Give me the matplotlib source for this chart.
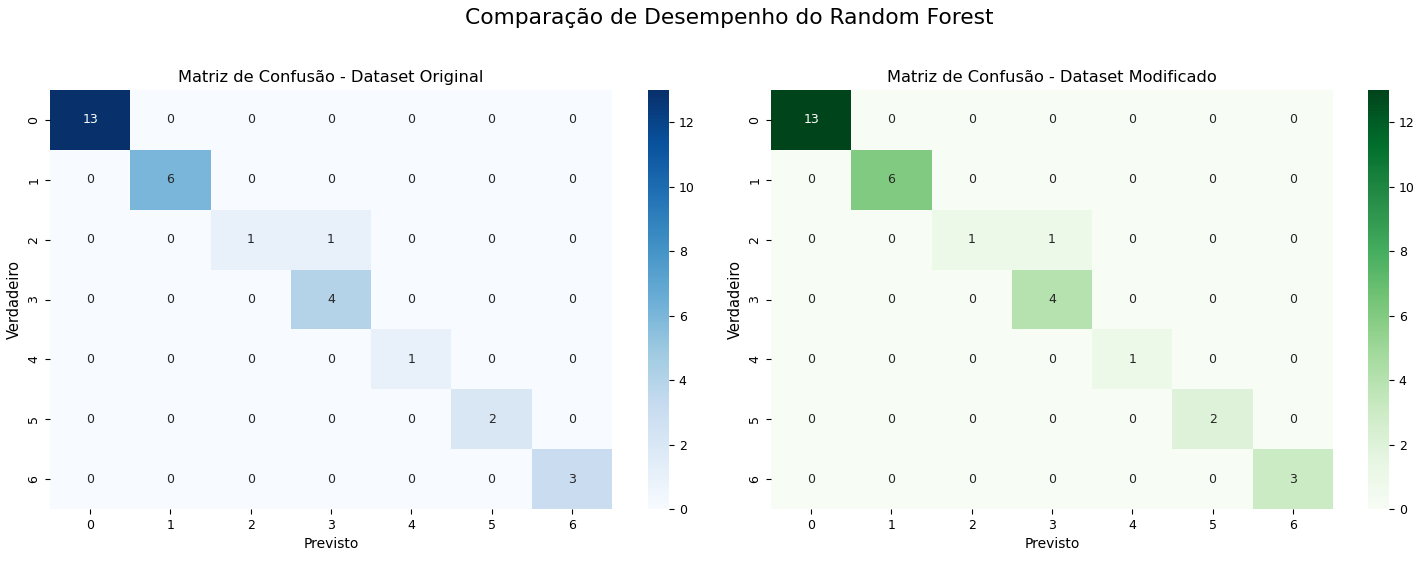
import numpy as np
import matplotlib
matplotlib.use("Agg")
import matplotlib.pyplot as plt
import seaborn as sns

labels = ["0", "1", "2", "3", "4", "5", "6"]
cm_original = [
    [13, 0, 0, 0, 0, 0, 0],
    [0, 6, 0, 0, 0, 0, 0],
    [0, 0, 1, 1, 0, 0, 0],
    [0, 0, 0, 4, 0, 0, 0],
    [0, 0, 0, 0, 1, 0, 0],
    [0, 0, 0, 0, 0, 2, 0],
    [0, 0, 0, 0, 0, 0, 3],
]
cm_modified = [
    [13, 0, 0, 0, 0, 0, 0],
    [0, 6, 0, 0, 0, 0, 0],
    [0, 0, 1, 1, 0, 0, 0],
    [0, 0, 0, 4, 0, 0, 0],
    [0, 0, 0, 0, 1, 0, 0],
    [0, 0, 0, 0, 0, 2, 0],
    [0, 0, 0, 0, 0, 0, 3],
]

W, H = 1428, 564
fig = plt.figure(figsize=(W / 100, H / 100), dpi=100)

def box(x0, y0, x1, y1):
    return [x0 / W, 1 - y1 / H, (x1 - x0) / W, (y1 - y0) / H]

panels = [
    (cm_original, "Blues", "Matriz de Confusão - Dataset Original",
     box(50, 90, 612, 509), box(648, 90, 669, 509)),
    (cm_modified, "Greens", "Matriz de Confusão - Dataset Modificado",
     box(771, 90, 1333, 509), box(1368, 90, 1389, 509)),
]

for data, cmap, title, axpos, cbpos in panels:
    ax = fig.add_axes(axpos)
    cax = fig.add_axes(cbpos)
    sns.heatmap(np.array(data), annot=True, fmt="d", cmap=cmap, ax=ax, cbar_ax=cax,
                xticklabels=labels, yticklabels=labels, annot_kws={"fontsize": 9})
    ax.set_title(title, fontsize=11.7)
    ax.set_xlabel("Previsto", fontsize=10)
    ax.set_ylabel("Verdadeiro", fontsize=10.5)
    ax.tick_params(labelsize=9)
    plt.setp(ax.get_yticklabels(), rotation=90, va="center")
    plt.setp(ax.get_xticklabels(), rotation=0)
    cax.tick_params(labelsize=9)
    cax.set_yticks([0, 2, 4, 6, 8, 10, 12])

fig.suptitle("Comparação de Desempenho do Random Forest", fontsize=15.7, x=0.5105, y=0.985)
fig.savefig("out.png", dpi=100)
